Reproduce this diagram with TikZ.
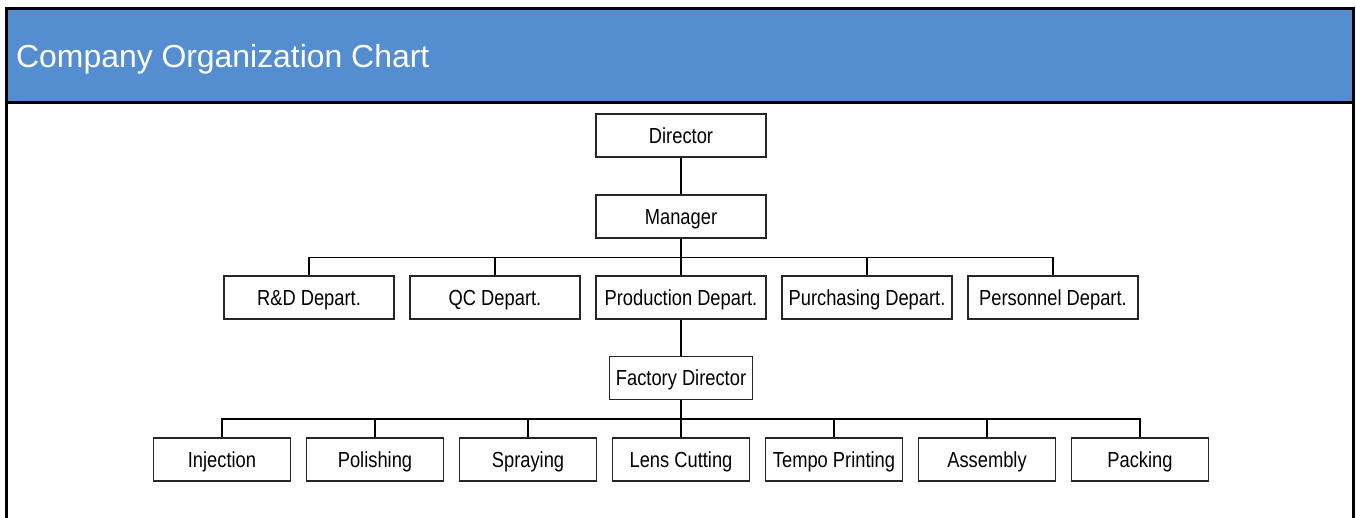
\documentclass[tikz,border=0pt]{standalone}
\usepackage{fontspec}
\setmainfont{Liberation Sans}
\newfontfamily\narrowfont[FakeStretch=0.84]{Liberation Sans}
\definecolor{hdrblue}{HTML}{558ED0}
\definecolor{boxline}{HTML}{262626}
\begin{document}
\begin{tikzpicture}[x=1pt,y=-1pt,
  orgbox/.style={draw=boxline, line width=1.2pt, fill=white, inner sep=0pt,
    minimum height=43pt, text height=15.6pt, text depth=0pt,
    font=\narrowfont\fontsize{21.8}{24}\selectfont},
  wide/.style={orgbox, minimum width=170pt},
  mid/.style={orgbox, minimum width=143pt},
  small/.style={orgbox, minimum width=137pt},
  conn/.style={draw=black, line width=1.2pt}]
\useasboundingbox (0,0) rectangle (1356,518);
\clip (0,0) rectangle (1356,518);
% header and frame
\fill[hdrblue] (6.8,8.7) rectangle (1353.8,102.5);
\draw[line width=2.7pt] (6.8,102.5) -- (1353.8,102.5);
\draw[line width=2.7pt] (6.8,540) -- (6.8,8.7) -- (1353.8,8.7) -- (1353.8,540);
\node[anchor=base west, inner sep=0pt, text=white, font=\fontsize{31.9}{36}\selectfont] (title) at (16,68) {Company Organization Chart};
% nodes
\node[wide] (dir) at (681,135.5) {Director};
\node[wide] (mgr) at (681,216.5) {Manager};
\node[wide] (rd) at (309,297.5) {R\&D Depart.};
\node[wide] (qc) at (495,297.5) {QC Depart.};
\node[wide] (prod) at (681,297.5) {Production Depart.};
\node[wide] (pur) at (867,297.5) {Purchasing Depart.};
\node[wide] (per) at (1053,297.5) {Personnel Depart.};
\node[mid] (fac) at (681,378) {Factory Director};
\node[small] (inj) at (222,459.5) {Injection};
\node[small] (pol) at (375,459.5) {Polishing};
\node[small] (spr) at (528,459.5) {Spraying};
\node[small] (lens) at (681,459.5) {Lens Cutting};
\node[small] (tem) at (834,459.5) {Tempo Printing};
\node[small] (ass) at (987,459.5) {Assembly};
\node[small] (pack) at (1140,459.5) {Packing};
% connectors
\coordinate (busA) at (681,257.5);
\coordinate (busB) at (681,419);
\draw[conn] (dir.south) -- (mgr.north);
\draw[conn] (mgr.south) -- (busA);
\foreach \n in {rd,qc,prod,pur,per} \draw[conn] (busA) -| (\n.north);
\draw[conn] (prod.south) -- (fac.north);
\draw[conn] (fac.south) -- (busB);
\foreach \n in {inj,pol,spr,lens,tem,ass,pack} \draw[conn] (busB) -| (\n.north);
\end{tikzpicture}
\end{document}
